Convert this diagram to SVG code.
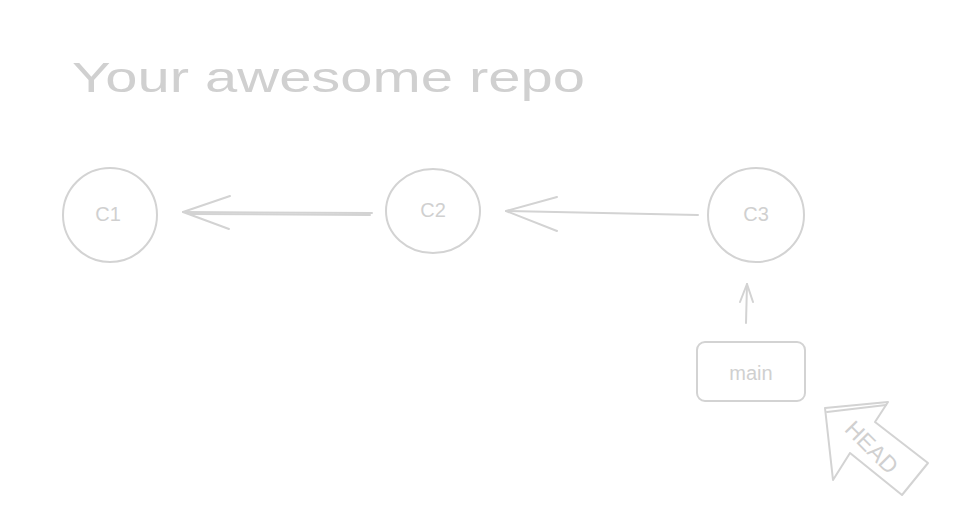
<svg xmlns="http://www.w3.org/2000/svg" width="969" height="530" viewBox="0 0 969 530">
  <style>
    .s { fill: none; stroke: #d3d3d3; stroke-width: 2; stroke-linecap: round; stroke-linejoin: round; }
    .t { fill: #d0d0d0; font-family: "Liberation Sans", "DejaVu Sans", sans-serif; }
  </style>
  <rect width="969" height="530" fill="#ffffff"/>
  <g id="title">
    <text class="t" x="72" y="92" font-size="42" textLength="513" lengthAdjust="spacingAndGlyphs">Your awesome repo</text>
  </g>
  <g id="c1">
    <ellipse class="s" cx="110" cy="215" rx="47" ry="47"/>
    <text class="t" x="108" y="221" font-size="20" text-anchor="middle">C1</text>
  </g>
  <g id="c2">
    <ellipse class="s" cx="433" cy="211" rx="47" ry="42"/>
    <text class="t" x="433" y="217" font-size="20" text-anchor="middle">C2</text>
  </g>
  <g id="c3">
    <ellipse class="s" cx="756" cy="215" rx="48" ry="47"/>
    <text class="t" x="756" y="221" font-size="20" text-anchor="middle">C3</text>
  </g>
  <g id="main">
    <rect class="s" x="697" y="342" width="108" height="59" rx="8" ry="8"/>
    <text class="t" x="751" y="380" font-size="20" text-anchor="middle">main</text>
  </g>
  <g id="head">
    <polygon class="s" points="825,408 888,402 875,422 928,463 902,495 850,453 833,480"/>
    <path class="s" d="M827 412 L886 405" stroke-width="1"/>
    <text class="t" x="871" y="455" font-size="23" text-anchor="middle" transform="rotate(45 871 448)">HEAD</text>
  </g>
  <g id="connectors">
    <path class="s" d="M372 213 L183 212"/>
    <path class="s" d="M370 215 L190 214" stroke-width="1"/>
    <path class="s" d="M230 196 L183 212 L229 229"/>
    <path class="s" d="M698 215 L506 211"/>
    <path class="s" d="M557 197 L506 211 L557 231"/>
    <path class="s" d="M746 323 L747 284"/>
    <path class="s" d="M740 302 L747 284 L753 302"/>
  </g>
</svg>
